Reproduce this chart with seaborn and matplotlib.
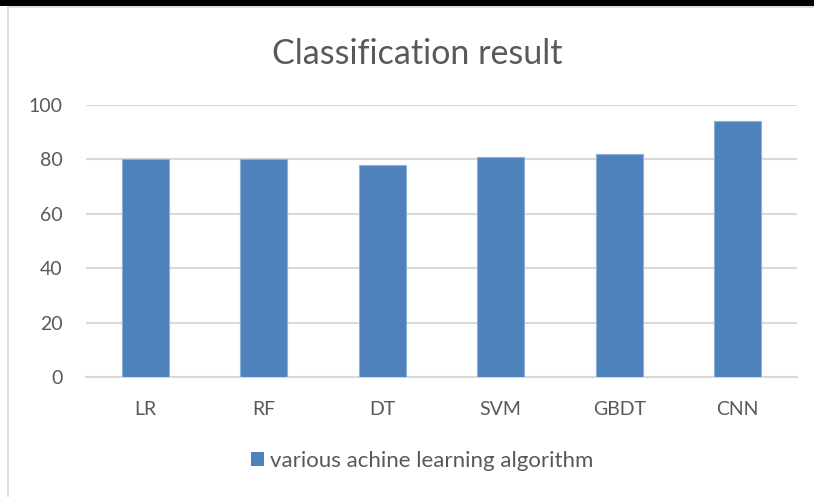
import pandas as pd
import matplotlib.pyplot as plt
import seaborn as sns
from matplotlib.patches import Rectangle
from matplotlib.lines import Line2D

# chart data
algorithms = ['LR', 'RF', 'DT', 'SVM', 'GBDT', 'CNN']
accuracy = [80, 80, 78, 81, 82, 94]
series_name = 'various achine learning algorithm'

df = pd.DataFrame({'Algorithm': algorithms, 'Accuracy': accuracy})

sns.set_theme(style='white')
plt.rcParams['font.family'] = ['Lato', 'DejaVu Sans']

W, H = 814, 497
fig = plt.figure(figsize=(W / 100, H / 100), dpi=100)
ax = fig.add_axes([86 / W, 1 - 377 / H, (797 - 86) / W, (377 - 105) / H])

bar_color = '#4F81BD'
sns.barplot(data=df, x='Algorithm', y='Accuracy', color=bar_color, width=0.4,
            edgecolor='#8EB0D9', linewidth=0.8, saturation=1, ax=ax, zorder=3)

ax.set_ylim(0, 100)
ax.set_yticks(range(0, 101, 20))
ax.yaxis.grid(True, color='#D9D9D9', linewidth=1.5, zorder=0)
ax.set_axisbelow(True)
for s in ['top', 'right', 'left']:
    ax.spines[s].set_visible(False)
ax.spines['bottom'].set_color('#D9D9D9')
ax.spines['bottom'].set_linewidth(1.5)
ax.set_xlabel('')
ax.set_ylabel('')
ax.tick_params(axis='both', length=0, labelsize=14, labelcolor='#595959')
ax.tick_params(axis='y', pad=17)
ax.tick_params(axis='x', pad=17)

fig.text(417 / W, 1 - 54 / H, 'Classification result', ha='center', va='center',
         fontsize=24.5, color='#595959')

# legend
handle = Rectangle((0, 0), 1, 1, facecolor=bar_color, edgecolor='none')
fig.legend([handle], [series_name], loc='center', bbox_to_anchor=(422 / W, 1 - 461 / H),
           frameon=False, fontsize=16, labelcolor='#595959', handlelength=0.6,
           handleheight=0.6, handletextpad=0.25)

# chart frame pieces from the original screenshot
fig.add_artist(Rectangle((0, 1 - 6 / H), 1, 6 / H, transform=fig.transFigure,
                         facecolor='black', edgecolor='none'))
fig.add_artist(Line2D([8 / W, 8 / W], [0, 1 - 7 / H], transform=fig.transFigure,
                      color='#D9D9D9', linewidth=1.2))
fig.add_artist(Line2D([8 / W, 1], [1 - 7 / H, 1 - 7 / H], transform=fig.transFigure,
                      color='#D9D9D9', linewidth=1.2))

fig.savefig('out.png', dpi=100)
